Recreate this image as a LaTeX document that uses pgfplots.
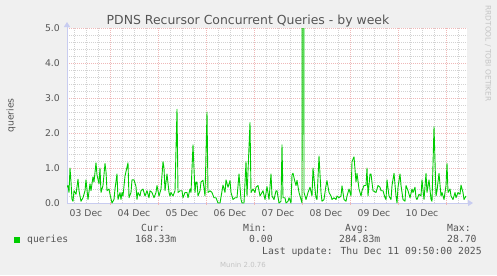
\documentclass[border=0pt]{standalone}
\usepackage{fontspec}
\setmainfont{DejaVu Sans}
\newfontfamily\monofont{DejaVu Sans Mono}
\usepackage{pgfplots}
\usepackage{pgfplotstable}
\pgfplotsset{compat=1.18}
\usetikzlibrary{arrows.meta}
\definecolor{bgc}{HTML}{F0F0F0}
\definecolor{txt}{HTML}{555555}
\definecolor{gridminor}{HTML}{D2D2D2}
\definecolor{gridmajor}{HTML}{EFB8B8}
\definecolor{axisc}{HTML}{C8CCF0}
\definecolor{lineg}{HTML}{00CC00}
\definecolor{faint}{HTML}{C4C4C4}

% hours since 03 Dec 00:00, concurrent queries
\pgfplotstableread{
h v
2.5 0.45
3 0.5
3.5 0.3
4 1.0
4.5 0.6
5 0.1
5.5 0.05
6 0.35
7 0.25
8 0.68
8.5 0.35
9.5 0.05
10.5 0.15
11.5 0.35
12 0.66
13 0.1
14 0.55
14.5 0.35
15.5 0.75
16 0.6
17 1.15
17.5 0.8
18.5 0.55
19 1.0
19.5 0.3
20.5 0.5
21.5 1.13
22 0.9
22.5 0.35
23.5 0.4
24 0.25
25 0.0
26 0.1
26.5 0.4
27.5 0.83
28 0.1
29 0.3
29.5 0.1
30 0.3
30.5 0.2
31.5 0.77
32 0.9
33 1.15
33.5 0.15
34.5 0.3
35 0.66
36 0.66
37 0.47
37.5 0.1
38 0.3
39 0.2
39.5 0.35
40.5 0.4
41.5 0.2
42.5 0.35
43.5 0.15
44 0.35
45 0.3
46 0.15
47 0.3
47.5 0.5
48.5 0.2
49.5 0.4
50.5 1.18
51 1.0
51.5 0.35
52.5 0.83
53.5 0.3
54 0.2
54.5 0.3
55.5 0.2
56.5 0.35
57.5 2.68
58 0.3
59 0.35
60 0.35
60.5 0.15
61.5 0.3
62.5 0.3
63 0.15
64 0.4
64.5 0.3
65.5 1.66
66.5 0.3
67 0.6
67.5 0.6
68 0.2
69 0.35
69.5 0.6
70.5 0.65
71.5 0.2
72.5 2.6
73 0.3
74 0.35
75 0.3
76 0.15
77 0.15
78 0.0
79 0.0
80.5 0.51
81.5 0.3
82 0.66
83 0.45
84 0.64
84.5 0.3
85.5 0.1
86.5 0.15
87.5 0.15
88.5 0.83
89.5 0.1
90 0.0
91 0.0
92 1.18
92.5 0.2
94 2.3
94.5 0.3
95.5 0.4
96.5 0.3
97 0.45
98 0.5
99 0.2
100 0.3
100.5 0.35
101.5 0.1
102.5 0.47
103.5 0.1
104.5 0.83
105 0.2
106 0.1
107 0.35
107.5 0.35
108.5 0.0
109.5 0.05
110 1.66
110.5 0.15
111.5 0.15
112 0.0
113 0.05
113.5 0.15
114.5 0.0
115 0.8
115.5 0.85
116.5 0.6
117 0.5
117.5 0.65
118.5 0.3
119.5 0.1
120 0.0
120.5 28.7
121 0.3
122 0.1
123 0.3
124 0.45
125 0.2
125.5 1.0
126.5 0.4
127 0.15
127.5 0.1
128.5 1.34
129.5 0.3
130 0.05
131 0.1
132 0.5
132.5 0.64
133.5 0.3
134.5 0.2
135 0.1
136 0.15
137 0.1
137.5 0.2
138.5 0.15
139.5 0.2
140 0.49
141 0.1
142 0.05
142.5 0.2
143.5 0.4
144.5 0.2
145 1.18
146 1.32
147 0.6
147.5 0.85
148.5 0.4
149.5 0.2
150 0.35
151 0.5
152 0.5
152.5 1.0
153 0.2
154 0.83
154.5 0.83
155.5 0.35
157 0.3
158 0.5
159 0.45
159.5 0.35
160.5 0.35
161.5 0.15
162 0.1
162.5 0.66
163.5 0.2
164.5 0.1
165 0.5
166 0.85
167 0.2
167.5 0.0
168 0.45
169 0.83
169.5 0.5
170.5 0.1
171.5 0.05
172 0.5
173 0.35
174 0.15
175 0.4
175.5 0.3
176.5 0.45
177 0.15
177.5 0.1
178.5 0.25
179.5 0.2
180 0.66
181 0.1
182 0.85
182.5 0.3
183.5 0.66
184.5 0.1
185 0.05
186 2.18
187 0.2
187.5 0.35
188.5 0.85
189.5 0.2
190 0.3
191 0.1
192 0.5
192.5 1.13
193 0.3
194 0.4
194.5 0.2
195.5 0.1
196.5 0.3
197 0.15
198 0.3
199 0.25
199.5 0.51
200.5 0.3
201 0.1
202 0.2
}\queries

\begin{document}
\begin{tikzpicture}[x=1bp,y=1bp]
\fill[bgc] (0,0) rectangle (497,275);
\useasboundingbox (0,0) rectangle (497,275);
\begin{axis}[
  at={(67bp,72bp)}, anchor=south west,
  scale only axis, width=400bp, height=175bp,
  xmin=2.5, xmax=202.5, ymin=0, ymax=5,
  axis background/.style={fill=white},
  axis lines=left,
  axis line style={draw=axisc, line width=1bp, shorten >=-6bp, -{Triangle[length=5bp,width=6bp]}},
  xtick={12,36,60,84,108,132,156,180},
  xticklabels={03 Dec,04 Dec,05 Dec,06 Dec,07 Dec,08 Dec,09 Dec,10 Dec},
  minor xtick={6,12,...,198},
  extra x ticks={24,48,72,96,120,144,168,192},
  extra x tick labels={},
  extra x tick style={grid=major, major tick length=3bp, tick style={draw=gridmajor, line width=1bp}},
  xmajorgrids=false, xminorgrids=true,
  ytick={0,1,2,3,4,5},
  yticklabels={0.0,1.0,2.0,3.0,4.0,5.0},
  minor y tick num=4,
  ymajorgrids=true, yminorgrids=true,
  major grid style={draw=gridmajor, line width=0.7bp, dash pattern=on 1bp off 1bp},
  minor grid style={draw=gridminor, line width=0.7bp, dash pattern=on 1bp off 1bp},
  tick align=center,
  major tick length=0bp, minor tick length=0bp,
  xticklabel style={font=\fontsize{9.3}{10}\selectfont, text=txt, inner sep=0pt, anchor=north, yshift=-6bp},
  yticklabel style={font=\fontsize{9.3}{10}\selectfont, text=txt, inner sep=0pt, anchor=east, xshift=-7bp},
  clip=true,
]
\addplot[draw=lineg, line width=0.9bp, line join=round] table[x=h, y=v] {\queries};
\end{axis}
% title
\node[anchor=base, text=txt, font=\fontsize{12.5}{14}\selectfont, inner sep=0pt] at (248,251) {PDNS Recursor Concurrent Queries - by week};
% y label
\node[anchor=base, rotate=90, text=txt, font=\fontsize{9.3}{10}\selectfont, inner sep=0pt] at (13.5,159.5) {queries};
% rrdtool watermark
\node[rotate=-90, text=faint, font=\fontsize{7.5}{8}\selectfont, inner sep=0pt] at (488,221.5) {RRDTOOL / TOBI OETIKER};
% legend
\fill[lineg] (14,32) rectangle (20,38);
\begin{scope}[every node/.style={anchor=base west, inner sep=0pt, text=txt, font=\monofont\fontsize{9.8}{11}\selectfont}]
\node at (27,33) {queries};
\node at (141,44) {Cur:};
\node at (135,33) {168.33m};
\node at (243,44) {Min:};
\node at (249,33) {0.00};
\node at (345,44) {Avg:};
\node at (339,33) {284.83m};
\node at (447,44) {Max:};
\node at (447,33) {28.70};
\node at (262,21) {Last update: Thu Dec 11 09:50:00 2025};
\end{scope}
\node[anchor=base, inner sep=0pt, text=faint, font=\fontsize{7}{8}\selectfont] at (243,8) {Munin 2.0.76};
\end{tikzpicture}
\end{document}
